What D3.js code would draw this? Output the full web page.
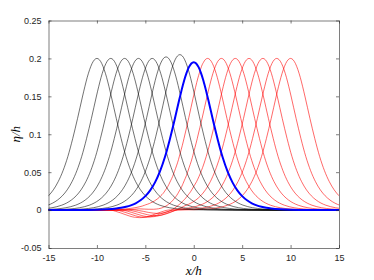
<!DOCTYPE html>
<html>
<head>
<meta charset="utf-8">
<script src="https://cdn.jsdelivr.net/npm/d3@7"></script>
<style>
  body { margin: 0; background: #fff; }
  .tick text { font-family: "Liberation Sans", Arial, sans-serif; font-size: 9px; fill: #262626; }
  .lbl { font-family: "Liberation Serif", "DejaVu Serif", serif; font-style: italic; font-size: 13px; fill: #000; }
</style>
</head>
<body>
<div id="chart"></div>
<script>
// crest positions and heights
var blackCenters = [-10, -8.57, -7.14, -5.71, -4.29, -2.86, -1.43];
var blackAmps = [0.2, 0.2, 0.2, 0.2, 0.2, 0.202, 0.205];
var blueCenters = [0];
var blueAmps = [0.195];
var redCenters = [1.43, 2.86, 4.29, 5.71, 7.14, 8.57, 10];
var redAmps = [0.2, 0.2, 0.2, 0.2, 0.2, 0.2, 0.2];

// trailing depression behind the red waves (centre, depth)
var wakeCenters = [-2.0, -2.6, -3.2, -3.8, -4.4, -5.0, -5.6];
var wakeDepths = [0.004, 0.006, 0.007, 0.008, 0.009, 0.0095, 0.010];

// normalised wave profile (distance from crest -> eta/a)
var profileOffsets = [0, 0.25, 0.5, 0.75, 1, 1.25, 1.5, 2, 2.5, 3, 3.5, 4, 4.5, 5, 5.5, 6, 6.5, 7, 7.5, 8, 9, 10, 11, 12, 14, 16, 20, 26];
var profileValues = [1, 0.9915, 0.9665, 0.9266, 0.8749, 0.8129, 0.7455, 0.6042, 0.4713, 0.3535, 0.2597, 0.1874, 0.1334, 0.0942, 0.0661, 0.0461, 0.0321, 0.0223, 0.0154, 0.0107, 0.0051, 0.0024, 0.0012, 0.0006, 0.00013, 0.00003, 0, 0];

// normalised wake profile
var wakeOffsets = [0, 0.5, 1, 1.5, 2, 2.5, 3];
var wakeValues = [-1, -0.95, -0.8, -0.58, -0.35, -0.15, 0];

var xTicks = [-15, -10, -5, 0, 5, 10, 15];
var yTicks = [-0.05, 0, 0.05, 0.1, 0.15, 0.2, 0.25];

var width = 374, height = 280;
var mLeft = 48.5, mRight = 339, mTop = 20.5, mBottom = 248;

var svg = d3.select("#chart").append("svg")
    .attr("width", width)
    .attr("height", height);

var x = d3.scaleLinear().domain([-15, 15]).range([mLeft, mRight]);
var y = d3.scaleLinear().domain([-0.05, 0.25]).range([mBottom, mTop]);

var profile = d3.scaleLinear().domain(profileOffsets).range(profileValues).clamp(true);
var wake = d3.scaleLinear().domain(wakeOffsets).range(wakeValues).clamp(true);

var line = d3.line()
    .x(function(d) { return x(d[0]); })
    .y(function(d) { return y(d[1]); })
    .curve(d3.curveMonotoneX);

svg.append("clipPath").attr("id", "clip")
  .append("rect")
    .attr("x", mLeft).attr("y", mTop)
    .attr("width", mRight - mLeft).attr("height", mBottom - mTop);

var plot = svg.append("g").attr("clip-path", "url(#clip)");

// vertices sit on the profile samples either side of the crest
function wavePoints(c, a, wc, wd) {
  var xs = [];
  profileOffsets.forEach(function(o) { xs.push(c - o, c + o); });
  if (wc !== undefined) wakeOffsets.forEach(function(o) { xs.push(wc - o, wc + o); });
  xs = Array.from(new Set(xs.map(function(v) { return Math.round(v * 1000) / 1000; })))
    .filter(function(v) { return v > -17 && v < 17; })
    .sort(d3.ascending);
  return xs.map(function(xv) {
    var v = a * profile(Math.abs(xv - c));
    if (wc !== undefined && Math.abs(xv - wc) <= 3) v += wd * wake(Math.abs(xv - wc));
    return [xv, v];
  });
}

redCenters.forEach(function(c, i) {
  plot.append("path")
      .attr("d", line(wavePoints(c, redAmps[i], wakeCenters[i], wakeDepths[i])))
      .attr("fill", "none")
      .attr("stroke", "#ff0000")
      .attr("stroke-opacity", 0.85)
      .attr("stroke-width", 0.7);
});

blackCenters.forEach(function(c, i) {
  plot.append("path")
      .attr("d", line(wavePoints(c, blackAmps[i])))
      .attr("fill", "none")
      .attr("stroke", "#000")
      .attr("stroke-opacity", 0.8)
      .attr("stroke-width", 0.7);
});

blueCenters.forEach(function(c, i) {
  plot.append("path")
      .attr("d", line(wavePoints(c, blueAmps[i])))
      .attr("fill", "none")
      .attr("stroke", "#0000ff")
      .attr("stroke-width", 2);
});

// axes, MATLAB style box with inward ticks
var axisColor = "#262626";
var fmt = function(d) { return d3.format("~g")(d).replace("−", "-"); };

var xAxis = svg.append("g")
    .attr("transform", "translate(0," + mBottom + ")")
    .call(d3.axisBottom(x).tickValues(xTicks).tickSizeInner(-3).tickSizeOuter(0).tickPadding(7).tickFormat(fmt));
var xAxisTop = svg.append("g")
    .attr("transform", "translate(0," + mTop + ")")
    .call(d3.axisTop(x).tickValues(xTicks).tickSizeInner(-3).tickSizeOuter(0).tickFormat(""));
var yAxis = svg.append("g")
    .attr("transform", "translate(" + mLeft + ",0)")
    .call(d3.axisLeft(y).tickValues(yTicks).tickSizeInner(-3).tickSizeOuter(0).tickPadding(7).tickFormat(fmt));
var yAxisRight = svg.append("g")
    .attr("transform", "translate(" + mRight + ",0)")
    .call(d3.axisRight(y).tickValues(yTicks).tickSizeInner(-3).tickSizeOuter(0).tickFormat(""));

[xAxis, xAxisTop, yAxis, yAxisRight].forEach(function(g) {
  g.selectAll("path, line").attr("stroke", axisColor).attr("stroke-width", 0.6);
});
xAxis.selectAll(".tick text").attr("dy", "0.71em");

svg.append("text")
    .attr("class", "lbl")
    .attr("x", (mLeft + mRight) / 2)
    .attr("y", 275)
    .attr("text-anchor", "middle")
    .text("x/h");

svg.append("text")
    .attr("class", "lbl")
    .attr("transform", "translate(20," + ((mTop + mBottom) / 2) + ") rotate(-90)")
    .attr("text-anchor", "middle")
    .text("η/h");
</script>
</body>
</html>
